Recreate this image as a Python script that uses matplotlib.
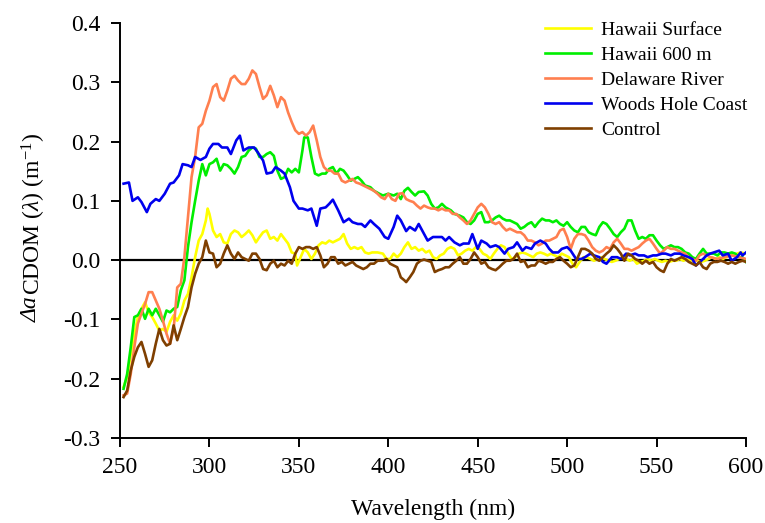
import matplotlib
matplotlib.use("Agg")
import matplotlib.pyplot as plt

plt.rcParams['font.family'] = ['Liberation Serif', 'DejaVu Serif']
plt.rcParams['mathtext.fontset'] = 'custom'
plt.rcParams['mathtext.rm'] = 'Liberation Serif'
plt.rcParams['mathtext.it'] = 'Liberation Serif:italic'

# ---- data ----
blue_x = [252, 255, 257, 260, 262, 265, 267, 270, 272, 275, 278, 280, 283, 285, 288, 290, 292, 295, 298, 300,
          302, 305, 307, 310, 312, 315, 317, 319, 322, 325, 327, 330, 332, 335, 337, 340, 342, 345, 347, 350,
          352, 355, 357, 360, 362, 365, 367, 369, 372, 375, 378, 380, 383, 385, 387, 390, 392, 395, 398, 400,
          403, 405, 407, 410, 412, 415, 417, 420, 422, 425, 428, 430, 432, 434, 437, 440, 442, 445, 447, 450,
          452, 455, 457, 460, 462, 465, 467, 470, 472, 475, 477, 480, 482, 485, 488, 490, 492, 495, 497, 500,
          502, 505, 508, 510, 513, 515, 518, 520, 522, 525, 528, 530, 533, 535, 538, 540, 543, 545, 548, 550,
          553, 555, 558, 560, 563, 565, 568, 570, 572, 575, 578, 580, 582, 585, 587, 590, 592, 595, 597, 598, 600]
blue_y = [0.129, 0.131, 0.100, 0.106, 0.098, 0.081, 0.095, 0.103, 0.100, 0.112, 0.129, 0.131, 0.143, 0.162, 0.160,
          0.157, 0.174, 0.169, 0.174, 0.188, 0.196, 0.196, 0.190, 0.190, 0.179, 0.202, 0.210, 0.185, 0.190, 0.190,
          0.182, 0.168, 0.146, 0.148, 0.157, 0.151, 0.146, 0.123, 0.100, 0.087, 0.087, 0.084, 0.087, 0.058, 0.087,
          0.089, 0.095, 0.102, 0.084, 0.064, 0.070, 0.064, 0.061, 0.061, 0.056, 0.067, 0.061, 0.053, 0.039, 0.036,
          0.056, 0.075, 0.067, 0.049, 0.056, 0.050, 0.061, 0.044, 0.033, 0.039, 0.039, 0.039, 0.033, 0.039, 0.030,
          0.025, 0.028, 0.028, 0.044, 0.019, 0.033, 0.028, 0.022, 0.025, 0.022, 0.011, 0.019, 0.022, 0.030, 0.016,
          0.022, 0.019, 0.028, 0.033, 0.028, 0.019, 0.013, 0.013, 0.019, 0.022, 0.016, 0.002, 0.002, 0.005, 0.011,
          0.008, 0.005, -0.003, -0.006, 0.005, 0.005, 0.002, 0.011, 0.008, 0.011, 0.008, 0.008, 0.005, 0.008, 0.008,
          0.011, 0.011, 0.008, 0.011, 0.011, 0.008, 0.005, 0.002, -0.009, -0.001, 0.008, 0.011, 0.013, 0.016, 0.008,
          0.011, -0.001, 0.005, 0.013, 0.008, 0.013]

green_x = [252, 254, 256, 258, 260, 262, 264, 266, 268, 270, 272, 274, 276, 278, 280, 282, 284, 286, 288, 290,
           292, 294, 296, 298, 300, 302, 304, 306, 308, 310, 312, 314, 316, 318, 320, 322, 324, 326, 328, 330,
           332, 334, 336, 338, 340, 342, 344, 346, 348, 350, 352, 353, 355, 357, 359, 361, 363, 365, 367, 369,
           371, 373, 375, 377, 379, 381, 383, 385, 387, 390, 392, 395, 397, 400, 403, 405, 407, 409, 411, 413,
           415, 417, 420, 422, 424, 426, 428, 430, 432, 435, 437, 440, 442, 444, 446, 448, 450, 452, 454, 456,
           458, 460, 462, 464, 466, 468, 470, 472, 474, 476, 478, 480, 482, 484, 486, 488, 490, 492, 494, 496,
           498, 500, 502, 504, 506, 508, 510, 512, 514, 516, 518, 520, 522, 524, 526, 528, 530, 532, 534, 536,
           538, 540, 542, 544, 546, 548, 550, 552, 554, 556, 558, 560, 562, 564, 566, 568, 570, 572, 574, 576,
           578, 580, 582, 584, 586, 588, 590, 592, 594, 596, 598, 600]
green_y = [-0.217, -0.192, -0.147, -0.096, -0.093, -0.082, -0.099, -0.082, -0.093, -0.082, -0.093, -0.104, -0.085,
           -0.088, -0.082, -0.079, -0.051, -0.034, 0.022, 0.064, 0.100, 0.134, 0.162, 0.143, 0.162, 0.165, 0.171,
           0.151, 0.162, 0.160, 0.154, 0.146, 0.157, 0.174, 0.176, 0.185, 0.190, 0.188, 0.174, 0.174, 0.179, 0.182,
           0.176, 0.151, 0.137, 0.140, 0.154, 0.148, 0.154, 0.148, 0.185, 0.207, 0.207, 0.174, 0.146, 0.143, 0.146,
           0.146, 0.154, 0.157, 0.146, 0.154, 0.151, 0.143, 0.134, 0.137, 0.140, 0.134, 0.126, 0.123, 0.117, 0.112,
           0.109, 0.112, 0.109, 0.112, 0.103, 0.117, 0.122, 0.115, 0.109, 0.115, 0.116, 0.109, 0.095, 0.087, 0.089,
           0.095, 0.089, 0.084, 0.078, 0.075, 0.072, 0.064, 0.061, 0.067, 0.078, 0.081, 0.064, 0.064, 0.067, 0.072,
           0.075, 0.070, 0.067, 0.067, 0.064, 0.061, 0.053, 0.056, 0.061, 0.064, 0.056, 0.064, 0.070, 0.067, 0.067,
           0.064, 0.067, 0.061, 0.058, 0.064, 0.056, 0.050, 0.047, 0.056, 0.056, 0.047, 0.044, 0.042, 0.056, 0.064,
           0.061, 0.053, 0.044, 0.039, 0.047, 0.053, 0.067, 0.067, 0.050, 0.036, 0.039, 0.036, 0.042, 0.042, 0.033,
           0.025, 0.019, 0.022, 0.025, 0.022, 0.022, 0.019, 0.013, 0.011, 0.005, 0.002, 0.011, 0.019, 0.011, 0.011,
           0.011, 0.008, 0.013, 0.013, 0.011, 0.013, 0.011, 0.005, 0.005, -0.003]

orange_x = [252, 254, 256, 258, 260, 262, 264, 266, 268, 270, 272, 274, 276, 278, 280, 282, 284, 286, 288, 290,
            292, 294, 296, 298, 300, 302, 304, 306, 308, 310, 312, 314, 316, 318, 320, 322, 324, 326, 328, 330,
            332, 334, 336, 338, 340, 342, 344, 346, 348, 350, 352, 354, 356, 358, 360, 362, 364, 366, 368, 370,
            372, 374, 376, 378, 380, 382, 384, 386, 388, 390, 392, 394, 396, 398, 400, 402, 404, 406, 408, 410,
            412, 414, 416, 418, 420, 422, 424, 426, 428, 430, 432, 434, 436, 438, 440, 442, 444, 446, 448, 450,
            452, 454, 456, 458, 460, 462, 464, 466, 468, 470, 472, 474, 476, 478, 480, 482, 484, 486, 488, 490,
            492, 494, 496, 498, 500, 502, 504, 506, 508, 510, 512, 514, 516, 518, 520, 522, 524, 526, 528, 530,
            532, 534, 536, 538, 540, 542, 544, 546, 548, 550, 552, 554, 556, 558, 560, 562, 564, 566, 568, 570,
            572, 574, 576, 578, 580, 584, 588, 592, 596, 600]
orange_y = [-0.228, -0.225, -0.192, -0.147, -0.107, -0.090, -0.074, -0.054, -0.054, -0.068, -0.082, -0.102, -0.124,
            -0.141, -0.116, -0.046, -0.040, 0.005, 0.072, 0.140, 0.174, 0.224, 0.230, 0.252, 0.269, 0.292, 0.297,
            0.275, 0.269, 0.286, 0.306, 0.311, 0.303, 0.297, 0.297, 0.306, 0.320, 0.314, 0.292, 0.272, 0.278, 0.294,
            0.278, 0.258, 0.275, 0.269, 0.249, 0.233, 0.219, 0.213, 0.216, 0.210, 0.216, 0.227, 0.202, 0.174, 0.157,
            0.151, 0.151, 0.146, 0.146, 0.134, 0.131, 0.134, 0.137, 0.131, 0.129, 0.126, 0.123, 0.120, 0.117, 0.112,
            0.106, 0.103, 0.112, 0.103, 0.100, 0.112, 0.113, 0.103, 0.100, 0.098, 0.092, 0.087, 0.092, 0.089, 0.087,
            0.087, 0.084, 0.087, 0.084, 0.084, 0.078, 0.078, 0.072, 0.067, 0.061, 0.067, 0.078, 0.089, 0.095, 0.089,
            0.078, 0.064, 0.061, 0.064, 0.056, 0.050, 0.053, 0.050, 0.047, 0.047, 0.042, 0.033, 0.033, 0.030, 0.025,
            0.028, 0.033, 0.033, 0.036, 0.039, 0.050, 0.053, 0.039, 0.019, 0.036, 0.044, 0.044, 0.042, 0.033, 0.022,
            0.016, 0.013, 0.016, 0.022, 0.019, 0.030, 0.036, 0.028, 0.019, 0.019, 0.016, 0.019, 0.022, 0.028, 0.033,
            0.036, 0.028, 0.019, 0.011, 0.016, 0.022, 0.019, 0.019, 0.016, 0.013, 0.011, 0.005, 0.002, -0.001, 0.008,
            0.011, 0.008, 0.005, 0.002, 0.005, 0.008, 0.005, 0.002]

yellow_x = [252, 254, 256, 258, 260, 262, 264, 266, 268, 270, 272, 274, 276, 278, 280, 282, 284, 286, 288, 290,
            292, 294, 296, 298, 299, 300, 302, 304, 306, 308, 310, 312, 314, 316, 318, 320, 322, 324, 326, 328,
            330, 332, 334, 336, 338, 340, 342, 344, 346, 348, 349, 351, 353, 355, 357, 359, 361, 363, 365, 367,
            369, 371, 373, 375, 377, 379, 381, 383, 385, 387, 389, 391, 394, 397, 399, 401, 403, 405, 407, 409,
            411, 413, 415, 417, 419, 421, 423, 425, 427, 429, 431, 433, 435, 437, 439, 441, 443, 445, 447, 449,
            451, 453, 455, 457, 459, 461, 463, 465, 467, 469, 471, 473, 475, 477, 479, 481, 483, 485, 487, 489,
            491, 493, 495, 497, 499, 501, 503, 505, 507, 509, 511, 513, 515, 517, 519, 521, 523, 525, 527, 529,
            531, 533, 535, 537, 539, 541, 543, 545, 547, 549, 551, 553, 555, 557, 559, 561, 563, 565, 567, 569,
            571, 573, 575, 577, 579, 581, 583, 585, 587, 589, 591, 593, 595, 597, 600]
yellow_y = [-0.214, -0.197, -0.158, -0.124, -0.096, -0.082, -0.071, -0.088, -0.096, -0.107, -0.119, -0.116, -0.121,
            -0.104, -0.093, -0.102, -0.090, -0.068, -0.057, -0.029, 0.005, 0.033, 0.044, 0.067, 0.087, 0.078, 0.050,
            0.039, 0.044, 0.030, 0.028, 0.044, 0.050, 0.047, 0.039, 0.044, 0.050, 0.042, 0.030, 0.039, 0.047, 0.050,
            0.036, 0.039, 0.033, 0.044, 0.036, 0.028, 0.013, 0.011, -0.009, 0.005, 0.019, 0.013, 0.002, 0.011, 0.025,
            0.030, 0.028, 0.033, 0.030, 0.033, 0.036, 0.044, 0.028, 0.019, 0.022, 0.019, 0.022, 0.013, 0.011, 0.013,
            0.013, 0.011, 0.002, 0.002, 0.011, 0.005, 0.011, 0.022, 0.030, 0.019, 0.022, 0.016, 0.019, 0.013, 0.016,
            0.005, 0.002, 0.008, 0.011, 0.019, 0.022, 0.019, 0.008, 0.011, 0.016, 0.019, 0.016, 0.022, 0.019, 0.011,
            0.008, 0.002, 0.011, 0.019, 0.025, 0.022, 0.011, 0.002, 0.005, 0.011, 0.013, 0.011, 0.008, 0.005, 0.011,
            0.013, 0.011, 0.008, 0.011, 0.008, 0.005, 0.011, 0.008, 0.005, -0.006, -0.012, -0.003, 0.005, 0.005,
            0.002, -0.001, 0.002, 0.005, 0.002, -0.001, -0.003, -0.001, 0.002, 0.005, 0.002, -0.001, 0.002, -0.006,
            -0.003, -0.001, 0.002, -0.001, 0.002, -0.001, -0.003, -0.001, -0.003, -0.001, -0.001, 0.002, -0.001,
            0.002, -0.001, 0.002, -0.001, -0.003, -0.001, 0.002, 0.005, 0.002, 0.005, 0.002, 0.005, 0.008, 0.008,
            0.011, 0.013, 0.011]

brown_x = [252, 254, 256, 258, 260, 262, 264, 266, 268, 270, 272, 274, 276, 278, 280, 282, 284, 286, 288, 290,
           292, 294, 296, 298, 300, 302, 304, 306, 308, 310, 312, 314, 316, 318, 320, 322, 324, 326, 328, 330,
           332, 334, 336, 338, 340, 342, 344, 346, 348, 350, 352, 354, 356, 358, 360, 362, 364, 366, 368, 370,
           372, 374, 376, 378, 380, 382, 384, 386, 388, 390, 392, 394, 397, 399, 401, 403, 405, 407, 409, 410,
           412, 414, 416, 418, 420, 422, 424, 426, 428, 430, 432, 434, 436, 438, 440, 442, 444, 446, 448, 450,
           452, 454, 456, 458, 460, 462, 464, 466, 468, 470, 472, 474, 476, 478, 480, 482, 484, 486, 488, 490,
           492, 494, 496, 498, 500, 502, 504, 506, 508, 510, 512, 514, 516, 518, 520, 522, 524, 526, 528, 530,
           532, 534, 536, 538, 540, 542, 544, 546, 548, 550, 552, 554, 556, 558, 560, 562, 564, 566, 568, 570,
           572, 574, 576, 578, 580, 582, 584, 586, 588, 590, 592, 594, 596, 598, 600]
brown_y = [-0.231, -0.220, -0.186, -0.163, -0.147, -0.138, -0.158, -0.180, -0.169, -0.141, -0.116, -0.135, -0.144,
           -0.141, -0.110, -0.135, -0.116, -0.096, -0.079, -0.046, -0.023, -0.006, 0.005, 0.033, 0.013, 0.011,
           -0.012, -0.006, 0.011, 0.025, 0.011, 0.002, 0.013, 0.005, 0.002, -0.001, 0.011, 0.011, 0.002, -0.015,
           -0.017, -0.006, -0.001, -0.012, -0.006, -0.009, -0.001, -0.006, 0.011, 0.022, 0.019, 0.022, 0.022, 0.019,
           0.022, 0.008, -0.012, -0.006, 0.005, 0.005, -0.006, -0.003, -0.009, -0.006, -0.003, -0.009, -0.012,
           -0.015, -0.012, -0.006, -0.006, -0.001, -0.001, 0.002, -0.006, -0.009, -0.012, -0.029, -0.034, -0.037,
           -0.029, -0.020, -0.006, -0.001, 0.001, -0.001, -0.003, -0.020, -0.017, -0.015, -0.012, -0.012, -0.006,
           -0.001, 0.005, -0.006, -0.006, 0.002, 0.013, 0.005, -0.006, -0.003, -0.012, -0.015, -0.017, -0.012,
           -0.006, -0.001, -0.001, 0.002, 0.011, -0.003, -0.001, -0.012, -0.009, -0.009, -0.001, -0.003, -0.006,
           -0.003, -0.003, 0.002, 0.005, -0.001, -0.006, -0.012, -0.009, 0.005, 0.019, 0.019, 0.016, 0.011, 0.002,
           -0.001, 0.005, 0.011, 0.016, 0.025, 0.019, 0.011, -0.001, 0.011, 0.008, 0.002, -0.001, -0.006, -0.001,
           -0.006, -0.003, -0.012, -0.017, -0.020, -0.006, 0.002, -0.001, 0.002, 0.005, 0.002, -0.003, -0.006,
           -0.009, -0.003, -0.012, -0.015, -0.006, -0.003, -0.003, -0.001, -0.003, -0.006, -0.003, -0.006, -0.003,
           -0.001, -0.003]

labels = ["Hawaii Surface", "Hawaii 600 m", "Delaware River", "Woods Hole Coast", "Control"]
colors = ["#FFFF00", "#00EE00", "#FF7F4F", "#0000EE", "#7F3F00"]

W, H = 765, 523
fig = plt.figure(figsize=(W / 100, H / 100), dpi=100)
ax = fig.add_axes([120 / W, 1 - 438 / H, 626 / W, 415 / H])

ax.axhline(0, color='black', lw=1.6, zorder=1)
series = [(yellow_x, yellow_y), (green_x, green_y), (orange_x, orange_y), (blue_x, blue_y), (brown_x, brown_y)]
for (xs, ys), lab, c in zip(series, labels, colors):
    ax.plot(xs, ys, color=c, lw=1.9, label=lab, zorder=2)

ax.set_xlim(250, 600)
ax.set_ylim(-0.3, 0.4)
ax.set_xticks([250, 300, 350, 400, 450, 500, 550, 600])
ax.set_yticks([-0.3, -0.2, -0.1, 0.0, 0.1, 0.2, 0.3, 0.4])
ax.set_yticklabels(['-0.3', '-0.2', '-0.1', '0.0', '0.1', '0.2', '0.3', '0.4'])
ax.spines['top'].set_visible(False)
ax.spines['right'].set_visible(False)
ax.spines['left'].set_linewidth(1.4)
ax.spines['bottom'].set_linewidth(1.4)
ax.tick_params(direction='out', length=6.5, width=1.4, labelsize=17, pad=7.5)

# x label sits low, right at the bottom edge
fig.text(433 / W, 1 - 515 / H, 'Wavelength (nm)', fontsize=17, ha='center', va='baseline')

# y label: "Δa" raised a little, "CDOM (λ) (m-1)" on a lower baseline
fig.canvas.draw()
rend = fig.canvas.get_renderer()
t1 = fig.text(37 / W, 1 - 322 / H, 'Δa', fontsize=17, style='italic', rotation=90,
              rotation_mode='anchor', ha='left', va='baseline')
h1 = t1.get_window_extent(rend).height
t2 = fig.text(40.5 / W, 1 - (322 - h1 - 1) / H, r'CDOM ($\lambda$) (m$^{-1}$)', fontsize=17, rotation=90,
              rotation_mode='anchor', ha='left', va='baseline')

ax.legend(loc='upper left', bbox_to_anchor=(0.663, 1.027), frameon=False, fontsize=14,
          handlelength=2.4, handletextpad=0.5, labelspacing=0.38, borderpad=0)

fig.savefig('out.png', dpi=100)
